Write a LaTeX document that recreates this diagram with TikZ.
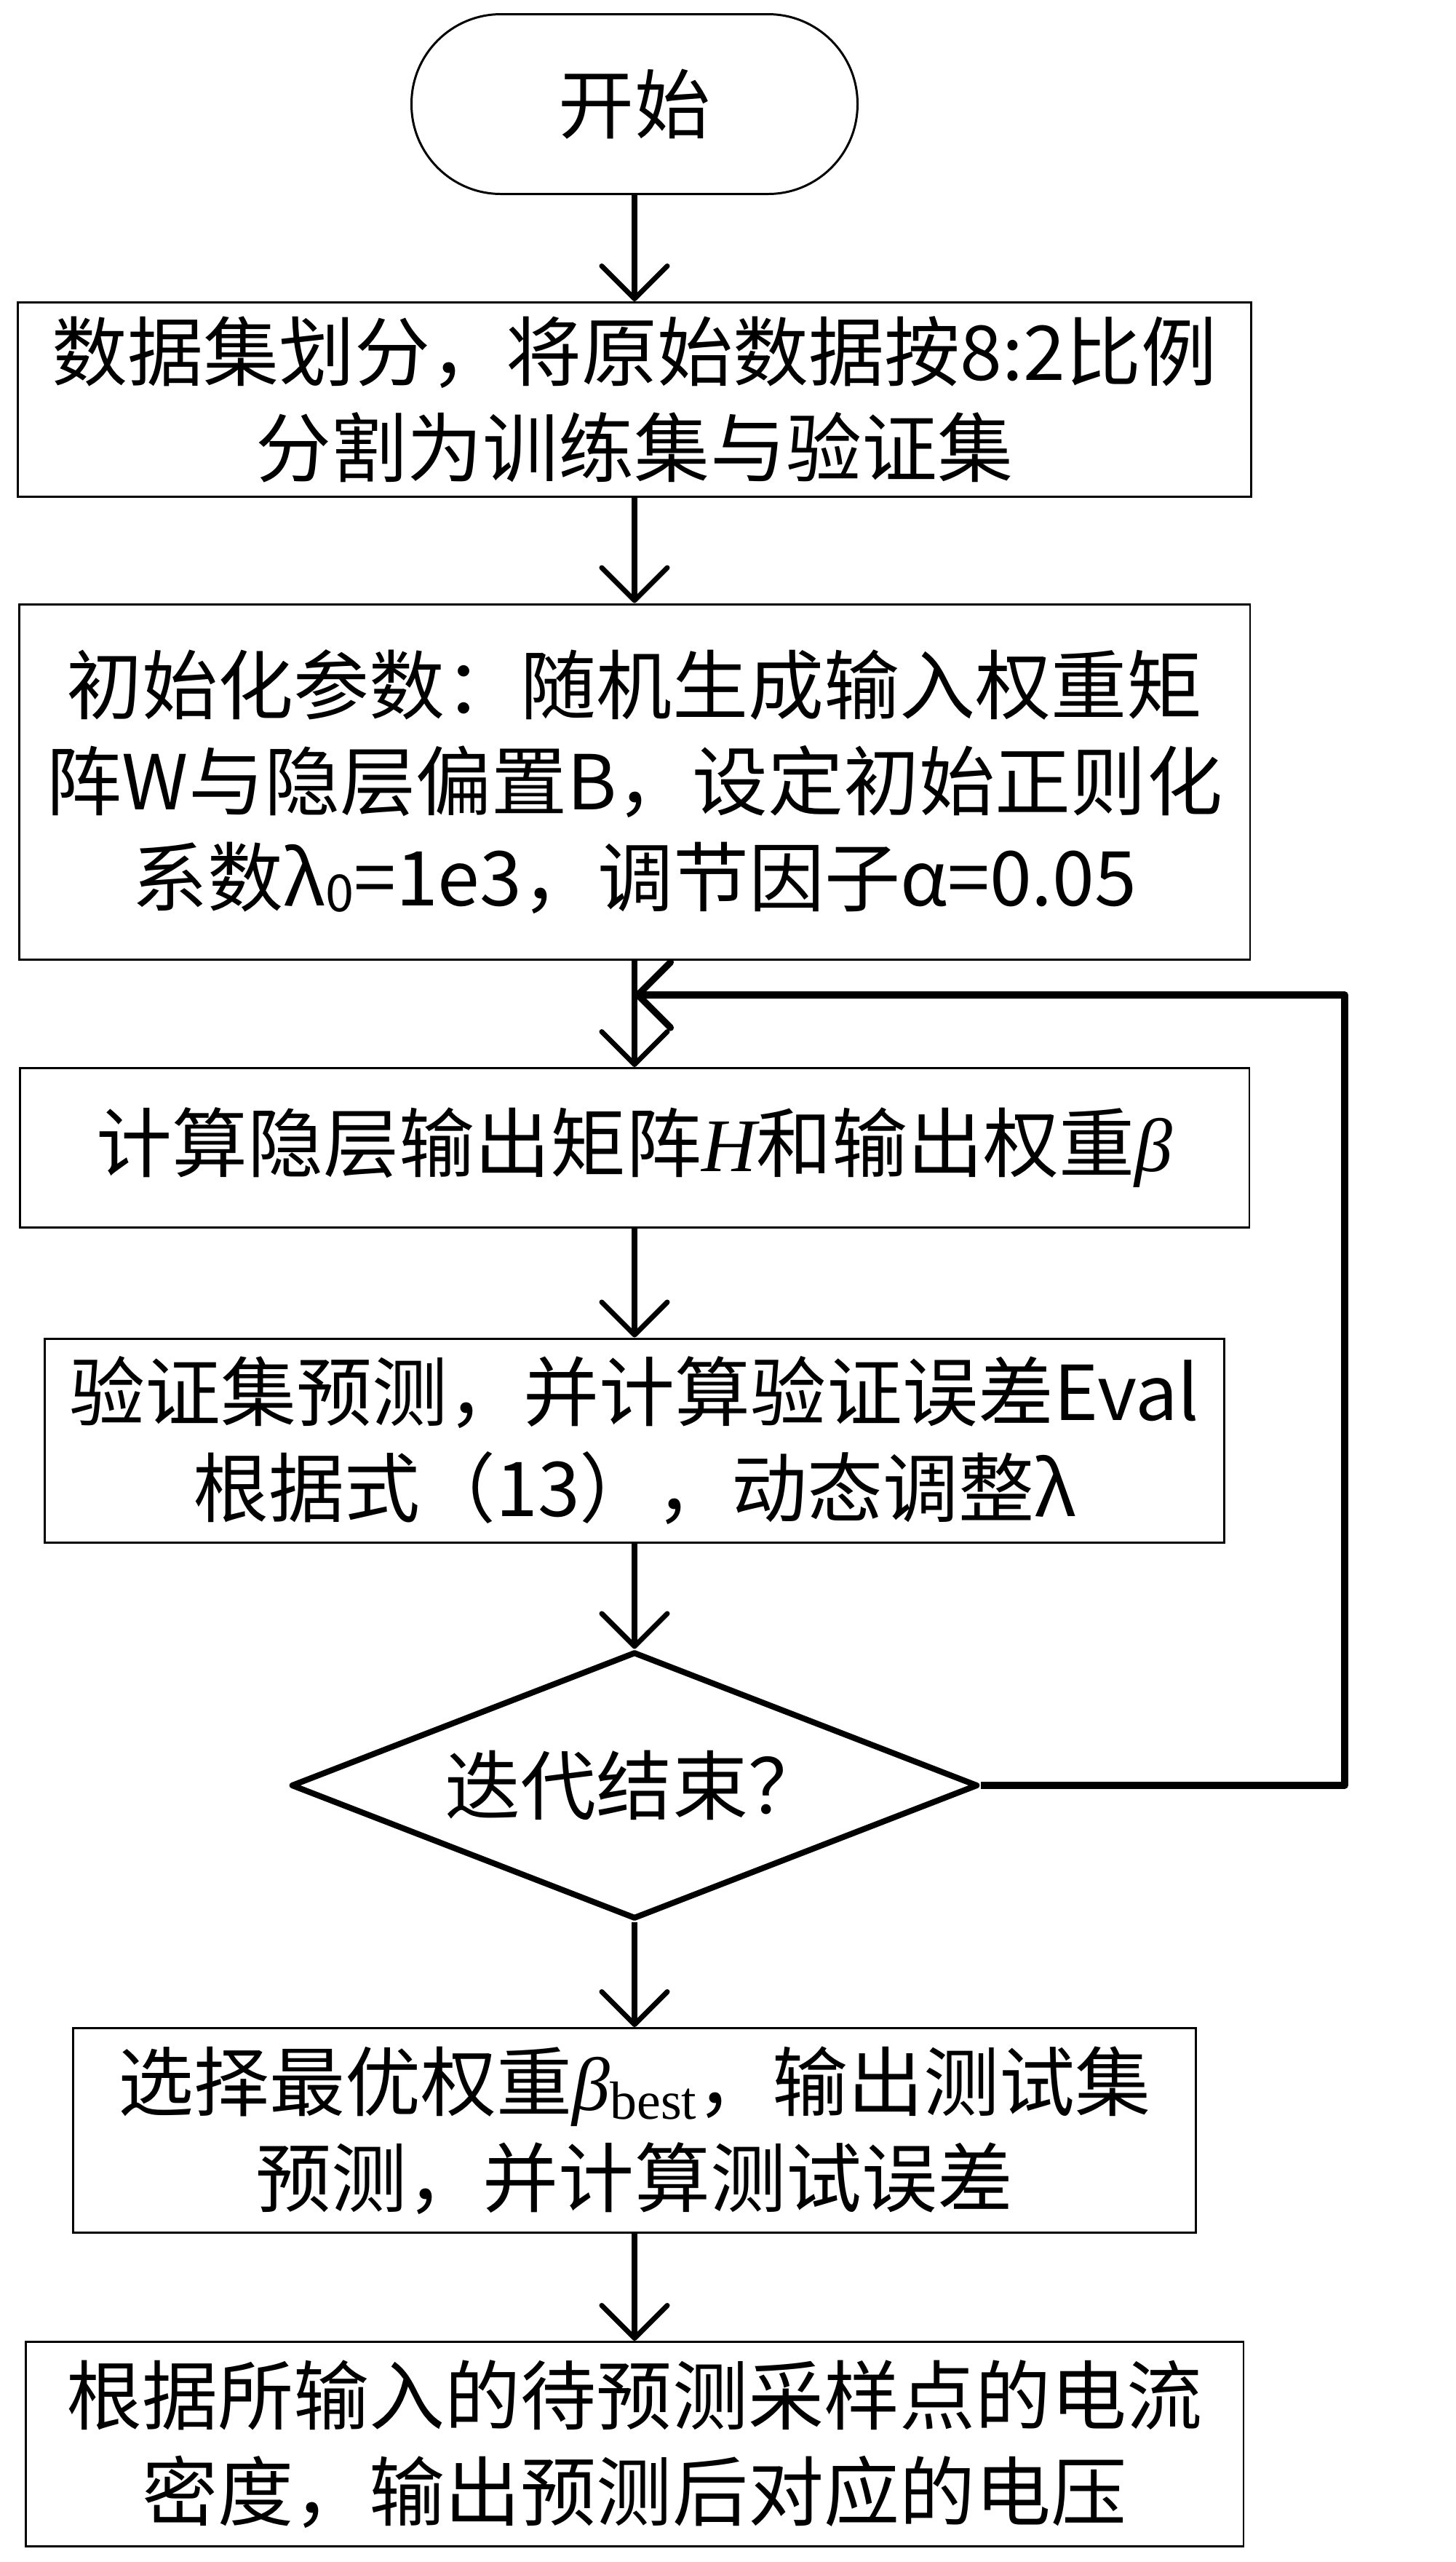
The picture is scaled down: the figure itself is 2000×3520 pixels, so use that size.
\documentclass[tikz,border=0pt]{standalone}
\usepackage{fontspec}
\setmainfont{Noto Sans CJK SC}
\newfontfamily\tms{Liberation Serif}
\usetikzlibrary{shapes.geometric, arrows.meta}
\tikzset{>={Straight Barb[length=4.5mm,width=9mm,round]}}
\tikzset{
  stepbox/.style={draw, line width=0.85pt, rectangle, inner sep=0pt, align=center,
    font=\fontsize{29.6}{37.5}\selectfont},
  startbox/.style={stepbox, minimum width=61.3mm, minimum height=24.7mm, rounded corners=12.3mm},
  testbox/.style={draw, line width=2.3pt, diamond, aspect=2.57, inner sep=0pt, line join=round,
    minimum width=94.4mm, minimum height=36.7mm, font=\fontsize{29.6}{37.5}\selectfont},
  arr/.style={->, line width=2pt},
  back/.style={->, line width=2.6pt, line join=round}
}
\newcommand{\bbest}{{\tms\itshape β}\raisebox{-1.2mm}{\tms\fontsize{21}{21}\selectfont best}}
\newcommand{\lamzero}{λ\raisebox{-0.8mm}{\fontsize{20}{20}\selectfont 0}}

\begin{document}
\begin{tikzpicture}[x=0.1mm, y=-0.1mm]
\useasboundingbox (0,0) rectangle (2000,3520);

\node[startbox] (start) at (872,143) {开始};
\node[stepbox, minimum width=169.5mm, minimum height=26.7mm] (split) at (872,549)
  {数据集划分，将原始数据按8:2比例\\分割为训练集与验证集};
\node[stepbox, minimum width=169.2mm, minimum height=48.8mm] (init) at (872,1074)
  {初始化参数：随机生成输入权重矩\\阵W与隐层偏置B，设定初始正则化\\系数\lamzero=1e3，调节因子α=0.05};
\node[stepbox, minimum width=169mm, minimum height=21.9mm] (hidden) at (872,1577)
  {计算隐层输出矩阵{\tms\itshape H}和输出权重{\tms\itshape β}};
\node[stepbox, minimum width=162.1mm, minimum height=28mm] (valid) at (872,1979)
  {验证集预测，并计算验证误差Eval\\根据式（13），动态调整λ};
\node[testbox] (stop) at (872,2453) {迭代结束？};
\node[stepbox, minimum width=154.3mm, minimum height=28.1mm] (best) at (872,2927)
  {选择最优权重\bbest，输出测试集\\预测，并计算测试误差};
\node[stepbox, minimum width=167.4mm, minimum height=28.1mm] (output) at (872,3358)
  {根据所输入的待预测采样点的电流\\密度，输出预测后对应的电压};

% loop back
\coordinate (join) at (872,1367);
\coordinate (turn) at (1848,2453);

\draw[arr] (start) -- (split);
\draw[arr] (split) -- (init);
\draw[arr] (init) -- (hidden);
\draw[arr] (hidden) -- (valid);
\draw[arr] (valid) -- (stop);
\draw[arr] (stop) -- (best);
\draw[arr] (best) -- (output);
\draw[back] (stop.east) -- (turn) |- (join);

\end{tikzpicture}
\end{document}
